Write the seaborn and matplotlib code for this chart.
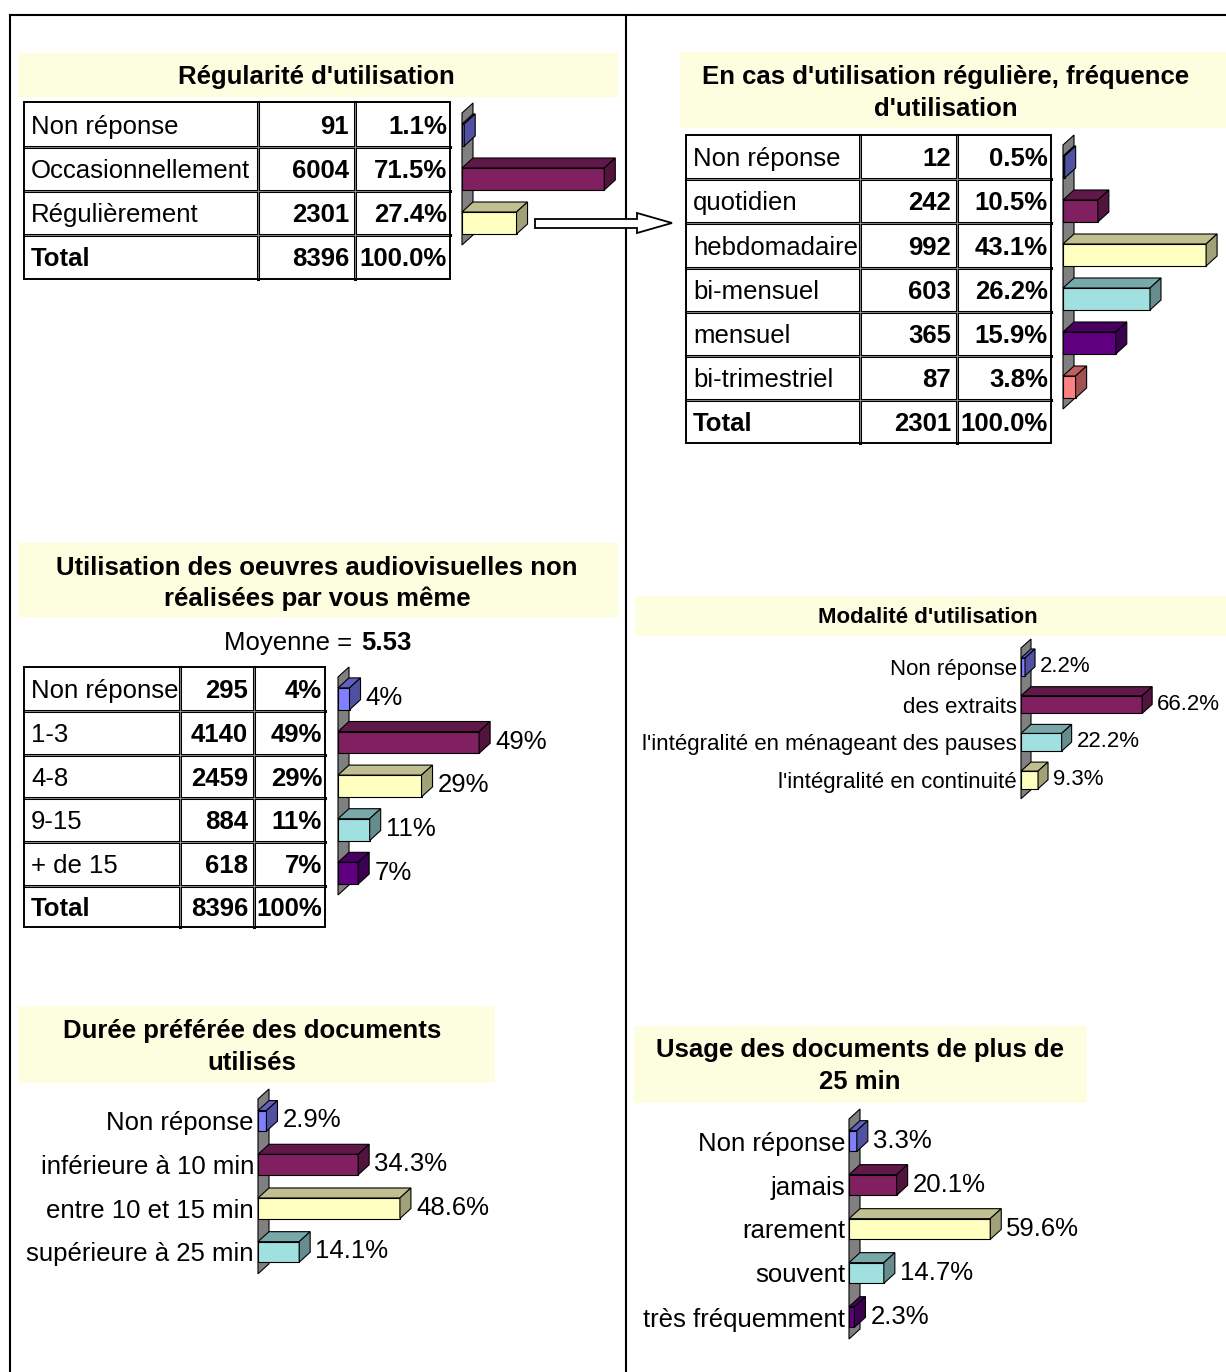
import numpy as np
import pandas as pd
import matplotlib
matplotlib.use('Agg')
import matplotlib.pyplot as plt
from matplotlib.lines import Line2D
from matplotlib.patches import Polygon, Rectangle
import seaborn as sns


W, H = 1226, 1372
PT = 0.72          # points per pixel at dpi=100
FS = 18.5
FS_SMALL = 16

BLUE, PLUM, IVORY = '#8080FF', '#802060', '#FFFFC0'
TURQ, PURPLE, CORAL = '#A0E0E0', '#600080', '#FF8080'
TITLE_BG = '#FDFDE0'

# --- data -------------------------------------------------------------
reg_labels = ['Non réponse', 'Occasionnellement', 'Régulièrement']
reg_counts = [91, 6004, 2301]
reg_pcts = [1.1, 71.5, 27.4]
reg_total = 8396

freq_labels = ['Non réponse', 'quotidien', 'hebdomadaire', 'bi-mensuel', 'mensuel', 'bi-trimestriel']
freq_counts = [12, 242, 992, 603, 365, 87]
freq_pcts = [0.5, 10.5, 43.1, 26.2, 15.9, 3.8]
freq_total = 2301

nb_labels = ['Non réponse', '1-3', '4-8', '9-15', '+ de 15']
nb_counts = [295, 4140, 2459, 884, 618]
nb_pcts = [4, 49, 29, 11, 7]
nb_total = 8396
nb_mean = 5.53

mod_labels = ['Non réponse', 'des extraits', "l'intégralité en ménageant des pauses",
              "l'intégralité en continuité"]
mod_pcts = [2.2, 66.2, 22.2, 9.3]

duree_labels = ['Non réponse', 'inférieure à 10 min', 'entre 10 et 15 min', 'supérieure à 25 min']
duree_pcts = [2.9, 34.3, 48.6, 14.1]

usage_labels = ['Non réponse', 'jamais', 'rarement', 'souvent', 'très fréquemment']
usage_pcts = [3.3, 20.1, 59.6, 14.7, 2.3]


def fx(x):
    return x / W


def fy(y):
    return 1 - y / H


def line(fig, x0, y0, x1, y1, lw, color='black', z=5):
    fig.add_artist(Line2D([fx(x0), fx(x1)], [fy(y0), fy(y1)], transform=fig.transFigure,
                          color=color, lw=lw, solid_capstyle='projecting', zorder=z))


def baseline(yc, fs):
    """pixel baseline so that capitals are centred on yc"""
    return fy(yc + 0.358 * fs / PT)


def title_box(fig, box, lines, xc, ys, fs=FS):
    x0, y0, x1, y1 = box
    fig.add_artist(Rectangle((fx(x0), fy(y1)), fx(x1) - fx(x0), fy(y0) - fy(y1),
                             transform=fig.transFigure, facecolor=TITLE_BG,
                             edgecolor='none', zorder=0))
    for txt, y in zip(lines, ys):
        fig.text(fx(xc), baseline(y, fs), txt, ha='center', va='baseline',
                 fontsize=fs, fontweight='bold')


def draw_table(fig, xs, ys, labels, counts, pcts, total, fmt, total_pct):
    rows = [(l, str(c), fmt.format(p)) for l, c, p in zip(labels, counts, pcts)]
    rows.append(('Total', str(total), total_pct))
    for r, (lab, cnt, pct) in enumerate(rows):
        base = baseline((ys[r] + ys[r + 1]) / 2, FS)
        is_total = r == len(rows) - 1
        fig.text(fx(xs[0] + 7), base, lab, ha='left', va='baseline', fontsize=FS,
                 fontweight='bold' if is_total else 'normal')
        fig.text(fx(xs[2] - 6), base, cnt, ha='right', va='baseline', fontsize=FS, fontweight='bold')
        fig.text(fx(xs[3] - 3), base, pct, ha='right', va='baseline', fontsize=FS, fontweight='bold')
    # inner grid: black double line with grey core
    for y in ys[1:-1]:
        line(fig, xs[0], y, xs[-1], y, 2.2)
        line(fig, xs[0], y, xs[-1], y, 0.6, '#9a9a9a', 6)
    for x in xs[1:-1]:
        line(fig, x, ys[0], x, ys[-1], 2.2)
        line(fig, x, ys[0], x, ys[-1], 0.6, '#9a9a9a', 6)
    fig.add_artist(Rectangle((fx(xs[0]), fy(ys[-1])), fx(xs[-1]) - fx(xs[0]), fy(ys[0]) - fy(ys[-1]),
                             transform=fig.transFigure, facecolor='none', edgecolor='black',
                             lw=1.4, zorder=7))


def bars3d(fig, left, top, width, spacing, scale, labels, values, colors, thick=0.5,
           dx=11, dy=10, fmt='{:.1f}%', fs=FS, ticklabels=False, value_labels=True):
    """Excel-like 3D horizontal bars: seaborn draws the front faces, the depth is extruded"""
    n = len(labels)
    ax = fig.add_axes([fx(left), fy(top + n * spacing), width / W, n * spacing / H])
    df = pd.DataFrame({'cat': labels, 'pct': values})
    sns.barplot(data=df, x='pct', y='cat', hue='cat', palette=colors, orient='h',
                width=thick, saturation=1, edgecolor='black', linewidth=0.8,
                legend=False, ax=ax, zorder=3)
    ax.set_xlim(0, width / scale)
    ax.set_ylim(n - 0.5, -0.5)
    ax.set_facecolor('none')
    ax.set_xlabel('')
    ax.set_ylabel('')
    ax.set_xticks([])
    sns.despine(ax=ax, left=True, bottom=True)
    if ticklabels:
        ax.tick_params(axis='y', length=0, pad=4 * PT, labelsize=fs, labelcolor='black')
    else:
        ax.set_yticks([])

    inv = ax.transData.inverted()
    # grey wall
    (x0, yb), (_, yt) = ax.transData.transform([(0, n - 0.5), (0, -0.5)])
    wall = [(x0, yb), (x0, yt), (x0 + dx, yt + dy), (x0 + dx, yb + dy)]
    ax.add_patch(Polygon(inv.transform(wall), closed=True, facecolor='#808080',
                         edgecolor='black', lw=0.8, zorder=1, clip_on=False))
    # top and side faces
    for bar in list(ax.patches):
        if not isinstance(bar, Rectangle):
            continue
        (a, b), (c, d) = ax.transData.transform([(bar.get_x(), bar.get_y()),
                                                 (bar.get_x() + bar.get_width(),
                                                  bar.get_y() + bar.get_height())])
        l, r, lo, hi = min(a, c), max(a, c), min(b, d), max(b, d)
        rgb = np.array(bar.get_facecolor()[:3])
        topf = [(l, hi), (r, hi), (r + dx, hi + dy), (l + dx, hi + dy)]
        side = [(r, lo), (r, hi), (r + dx, hi + dy), (r + dx, lo + dy)]
        ax.add_patch(Polygon(inv.transform(topf), closed=True, facecolor=rgb * 0.75,
                             edgecolor='black', lw=0.8, zorder=3, clip_on=False))
        ax.add_patch(Polygon(inv.transform(side), closed=True, facecolor=rgb * 0.63,
                             edgecolor='black', lw=0.8, zorder=3, clip_on=False))
    if value_labels:
        for i, v in enumerate(values):
            ax.annotate(fmt.format(v), xy=(v, i), xytext=((dx + 5) * PT, 0.5 * PT),
                        textcoords='offset points', ha='left', va='center', fontsize=fs)
    return ax


def plot_all():
    sns.set_style('white')
    plt.rcParams['font.family'] = ['Liberation Sans', 'DejaVu Sans']
    plt.rcParams['text.color'] = 'black'
    fig = plt.figure(figsize=(W / 100, H / 100), dpi=100)

    # outer frame
    line(fig, 10, 15, W, 15, 1.5)
    line(fig, 10, 15, 10, H, 1.5)
    line(fig, 626, 15, 626, H, 1.5)

    # Régularité d'utilisation
    title_box(fig, (18, 53, 618, 97), ["Régularité d'utilisation"], 316, [75])
    draw_table(fig, [24, 258, 355, 450], [102, 147, 191, 235, 279],
               reg_labels, reg_counts, reg_pcts, reg_total, '{:.1f}%', '100.0%')
    bars3d(fig, 462, 113, 165, 44, 1.99, reg_labels, reg_pcts, [BLUE, PLUM, IVORY],
           value_labels=False)

    # arrow to the right-hand panel
    arrow = [(535, 219), (637, 219), (637, 213), (672, 223), (637, 233), (637, 228), (535, 228)]
    fig.add_artist(Polygon([(fx(x), fy(y)) for x, y in arrow], closed=True,
                           transform=fig.transFigure, facecolor='white',
                           edgecolor='black', lw=1.3, zorder=8))

    # Fréquence
    title_box(fig, (680, 52, W, 128), ["En cas d'utilisation régulière, fréquence",
                                       "d'utilisation"], 946, [75, 107])
    draw_table(fig, [686, 860, 957, 1051], [135, 179, 223, 268, 312, 356, 400, 443],
               freq_labels, freq_counts, freq_pcts, freq_total, '{:.1f}%', '100.0%')
    bars3d(fig, 1063, 145, 163, 44, 3.32, freq_labels, freq_pcts,
           [BLUE, PLUM, IVORY, TURQ, PURPLE, CORAL], value_labels=False)

    # Utilisation des oeuvres
    title_box(fig, (18, 543, 618, 617), ["Utilisation des oeuvres audiovisuelles non",
                                        "réalisées par vous même"], 317, [566, 597])
    fig.text(fx(352), baseline(641, FS), 'Moyenne =', ha='right', va='baseline', fontsize=FS)
    fig.text(fx(361), baseline(641, FS), f'{nb_mean:.2f}', ha='left', va='baseline',
             fontsize=FS, fontweight='bold')
    draw_table(fig, [24, 180, 254, 325], [667, 711, 755, 798, 842, 886, 927],
               nb_labels, nb_counts, nb_pcts, nb_total, '{:.0f}%', '100%')
    bars3d(fig, 338, 677, 260, 43.6, 2.88, nb_labels, nb_pcts,
           [BLUE, PLUM, IVORY, TURQ, PURPLE], fmt='{:.0f}%')

    # Modalité d'utilisation
    title_box(fig, (635, 596, W, 636), ["Modalité d'utilisation"], 928, [615], FS_SMALL)
    bars3d(fig, 1021, 648, 205, 37.7, 1.83, mod_labels, mod_pcts,
           [BLUE, PLUM, TURQ, IVORY], thick=0.47, dx=10, dy=9, fs=FS_SMALL, ticklabels=True)

    # Durée préférée
    title_box(fig, (18, 1006, 495, 1083), ["Durée préférée des documents", "utilisés"],
              252, [1029, 1061])
    bars3d(fig, 258, 1099, 300, 43.7, 2.92, duree_labels, duree_pcts,
           [BLUE, PLUM, IVORY, TURQ], thick=0.47, ticklabels=True)

    # Usage des documents de plus de 25 min
    title_box(fig, (634, 1026, 1087, 1103), ["Usage des documents de plus de", "25 min"],
              860, [1048, 1080])
    bars3d(fig, 849, 1119, 300, 44, 2.37, usage_labels, usage_pcts,
           [BLUE, PLUM, IVORY, TURQ, PURPLE], thick=0.47, ticklabels=True)

    fig.savefig('out.png', dpi=100, facecolor='white')
    plt.close(fig)


if __name__ == '__main__':
    plot_all()
